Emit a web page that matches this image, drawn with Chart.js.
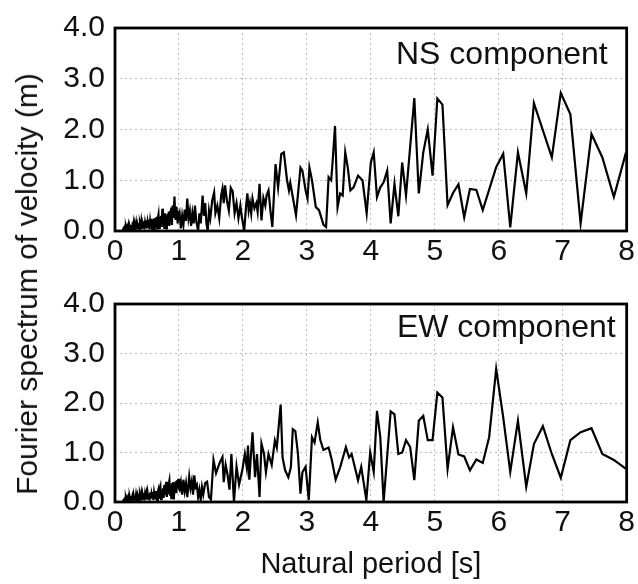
<!DOCTYPE html>
<html><head><meta charset="utf-8">
<script src="https://cdn.jsdelivr.net/npm/chart.js@4.4.0/dist/chart.umd.min.js"></script>
<style>
html,body{margin:0;padding:0;background:#fff;}
#wrap{position:relative;width:638px;height:584px;overflow:hidden;background:#fff;}
#c1{position:absolute;left:0;top:0;}
#c2{position:absolute;left:0;top:276px;}
#ytitle{position:absolute;left:27px;top:284px;transform:translate(-50%,-50%) rotate(-90deg);white-space:nowrap;font-size:30px;font-family:'Liberation Sans',Arial,sans-serif;color:#111;}
</style></head><body>
<div id="wrap">
<canvas id="c1" width="638" height="284"></canvas>
<canvas id="c2" width="638" height="308"></canvas>
<div id="ytitle">Fourier spectrum of velocity (m)</div>
</div>
<script>
// ---- data ----
const nsPeriod = [0.12,0.13,0.14,0.15,0.16,0.17,0.18,0.19,0.20,0.21,0.22,0.23,0.24,0.25,0.26,0.27,0.28,0.29,0.30,0.31,
0.32,0.33,0.34,0.35,0.36,0.37,0.38,0.39,0.40,0.41,0.42,0.43,0.44,0.45,0.46,0.47,0.48,0.49,0.50,0.51,
0.52,0.53,0.54,0.55,0.56,0.57,0.58,0.59,0.60,0.61,0.62,0.63,0.64,0.65,0.66,0.67,0.68,0.69,0.70,0.71,
0.72,0.73,0.74,0.75,0.76,0.77,0.78,0.79,0.80,0.81,0.82,0.83,0.84,0.85,0.86,0.87,0.88,0.89,0.90,0.91,
0.92,0.93,0.94,0.95,0.96,0.97,0.98,0.99,1.00,1.01,1.03,1.05,1.07,1.09,
1.11,1.13,1.15,1.17,1.19,1.21,1.23,1.25,1.27,1.30,1.32,1.34,1.37,1.39,1.41,1.43,1.45,1.47,1.49,1.52,
1.55,1.57,1.60,1.63,1.66,1.68,1.70,1.72,1.75,1.78,1.81,1.84,1.87,1.90,1.93,1.96,1.98,2.02,2.05,2.07,
2.09,2.11,2.13,2.15,2.18,2.21,2.23,2.26,2.29,2.32,2.35,2.37,2.40,2.43,2.46,2.51,2.55,2.60,2.64,2.69,
2.72,2.74,2.77,2.83,2.90,2.93,2.98,3.01,3.04,3.08,3.14,3.19,3.26,3.30,3.34,3.38,3.40,3.44,3.48,3.52,
3.56,3.60,3.64,3.68,3.73,3.80,3.87,3.935,4.0,4.045,4.096,4.148,4.20,4.256,4.31,4.37,4.43,4.49,4.55,4.68,
4.75,4.82,4.89,4.965,5.04,5.12,5.20,5.285,5.37,5.46,5.55,5.65,5.75,5.96,6.07,6.18,6.30,6.43,6.55,6.83,
6.97,7.12,7.28,7.45,7.62,7.80,7.99];
const nsAmp = [0.00,0.04,0.01,0.06,0.02,0.07,0.01,0.08,0.03,0.10,0.02,0.09,0.04,0.12,0.03,0.10,0.05,0.14,0.02,0.12,
0.06,0.15,0.03,0.13,0.07,0.16,0.02,0.14,0.08,0.18,0.04,0.15,0.09,0.19,0.03,0.16,0.08,0.21,0.05,0.18,
0.10,0.22,0.03,0.19,0.09,0.24,0.04,0.20,0.11,0.25,0.02,0.22,0.10,0.28,0.05,0.24,0.32,0.06,0.27,0.12,
0.30,0.08,0.44,0.14,0.33,0.06,0.35,0.18,0.30,0.03,0.34,0.15,0.38,0.10,0.40,0.22,0.46,0.12,0.50,0.28,
0.40,0.68,0.30,0.22,0.48,0.35,0.15,0.40,0.30,0.35,0.05,0.30,0.12,0.42,
0.20,0.64,0.25,0.40,0.10,0.35,0.15,0.50,0.20,0.00,0.35,0.15,0.70,0.30,0.55,0.15,0.00,0.40,0.25,0.60,
0.76,0.35,0.50,0.25,0.70,0.83,0.55,0.90,0.60,0.40,0.85,0.78,0.35,0.55,0.25,0.50,0.30,0.00,0.50,0.74,
0.40,0.55,0.35,0.64,0.45,0.55,0.38,0.93,0.21,0.65,0.50,0.70,0.80,0.40,0.08,1.32,0.86,1.52,1.55,1.00,
0.80,0.95,0.74,0.31,1.25,1.19,0.80,0.64,1.25,1.00,0.47,0.41,0.12,0.08,1.06,1.00,1.32,2.07,0.47,0.74,
0.70,1.55,1.25,0.80,0.86,1.09,1.00,0.35,1.35,1.55,0.67,0.86,0.96,1.19,0.15,0.93,0.29,1.35,0.70,2.62,
0.74,1.55,2.00,1.09,2.61,2.49,0.51,0.75,0.92,0.27,0.83,0.81,0.41,1.26,1.52,0.07,1.55,0.74,2.52,1.45,
2.72,2.30,0.15,1.91,1.45,0.67,1.55];

const ewPeriod = [0.12,0.13,0.14,0.15,0.16,0.17,0.18,0.19,0.20,0.21,0.22,0.23,0.24,0.25,0.26,0.27,0.28,0.29,0.30,0.31,
0.32,0.33,0.34,0.35,0.36,0.37,0.38,0.39,0.40,0.41,0.42,0.43,0.44,0.45,0.46,0.47,0.48,0.49,0.50,0.51,
0.52,0.53,0.54,0.55,0.56,0.57,0.58,0.59,0.60,0.61,0.62,0.63,0.64,0.65,0.66,0.67,0.68,0.69,0.70,0.71,
0.72,0.73,0.74,0.75,0.76,0.77,0.78,0.79,0.80,0.81,0.82,0.83,0.84,0.85,0.86,0.87,0.88,0.89,0.90,0.91,
0.92,0.93,0.94,0.95,0.96,0.97,0.98,0.99,1.00,1.01,1.03,1.05,1.07,1.09,1.11,
1.13,1.16,1.18,1.20,1.22,1.24,1.26,1.28,1.30,1.32,1.34,1.36,1.38,1.41,1.44,1.47,1.50,1.54,1.58,1.63,
1.68,1.70,1.73,1.76,1.79,1.82,1.86,1.90,1.94,1.99,2.03,2.06,2.08,2.10,2.15,2.19,2.22,2.26,2.29,2.33,
2.36,2.40,2.45,2.50,2.53,2.59,2.62,2.66,2.71,2.75,2.78,2.82,2.86,2.90,2.93,2.98,3.03,3.08,3.12,3.17,
3.21,3.26,3.34,3.39,3.45,3.52,3.61,3.66,3.70,3.76,3.80,3.85,3.93,3.99,4.045,4.096,4.148,4.20,4.31,4.37,
4.43,4.49,4.55,4.615,4.68,4.75,4.82,4.89,4.965,5.04,5.12,5.20,5.285,5.37,5.46,5.55,5.65,5.75,5.85,5.96,
6.07,6.18,6.30,6.43,6.55,6.69,6.83,6.97,7.12,7.28,7.45,7.62,7.80,7.99];
const ewAmp = [0.00,0.03,0.01,0.05,0.02,0.07,0.01,0.08,0.03,0.09,0.02,0.10,0.04,0.12,0.05,0.11,0.03,0.14,0.06,0.12,
0.04,0.15,0.07,0.13,0.03,0.16,0.06,0.14,0.08,0.17,0.04,0.15,0.07,0.18,0.03,0.16,0.09,0.17,0.05,0.18,
0.08,0.16,0.03,0.19,0.07,0.17,0.10,0.20,0.04,0.18,0.08,0.22,0.05,0.19,0.02,0.21,0.26,0.09,0.24,0.30,
0.06,0.25,0.12,0.28,0.08,0.32,0.35,0.14,0.41,0.10,0.30,0.18,0.36,0.43,0.15,0.34,0.08,0.38,0.22,0.40,
0.05,0.36,0.25,0.42,0.18,0.44,0.30,0.47,0.28,0.25,0.40,0.15,0.45,0.22,0.38,
0.10,0.51,0.28,0.42,0.15,0.54,0.30,0.35,0.10,0.25,0.05,0.30,0.15,0.38,0.41,0.10,0.05,0.85,0.58,0.77,
0.91,0.40,0.75,0.55,0.25,0.97,0.00,0.72,0.35,0.64,0.97,0.70,1.14,0.45,1.41,0.50,0.97,0.10,1.18,0.97,
0.60,0.97,0.75,1.24,1.10,1.97,0.90,0.64,0.50,0.70,1.47,1.43,0.98,0.17,0.60,0.71,0.04,1.31,1.20,1.61,
1.25,1.05,1.10,0.85,0.45,0.70,1.11,0.90,0.97,0.65,0.44,0.71,0.04,1.00,0.61,1.84,1.31,0.00,1.83,1.77,
0.97,1.00,1.25,1.11,0.44,1.64,1.74,1.25,1.25,2.21,2.11,0.67,1.51,0.96,0.92,0.64,0.86,0.79,1.31,2.69,
1.71,0.61,1.64,0.31,1.17,1.53,0.97,0.49,1.25,1.41,1.49,0.97,0.85,0.67];

const xTickLabels = ['0','1','2','3','4','5','6','7','8'];
const yTickLabels = ['0.0','1.0','2.0','3.0','4.0'];
const panelLabels = ['NS component','EW component'];
const xTitle = 'Natural period [s]';

// ---- drawing ----
const fam = "'Liberation Sans',Arial,sans-serif";
const tickFont = {family:fam, size:30};

const framePlugin = {
  id:'frame',
  afterDraw(chart, args, o){
    const {ctx, chartArea:a} = chart;
    ctx.save();
    ctx.lineWidth = 2.8; ctx.strokeStyle = '#000';
    ctx.strokeRect(a.left, a.top, a.right-a.left, a.bottom-a.top);
    ctx.font = "32px " + fam;
    ctx.fillStyle = '#111'; ctx.textAlign = 'right'; ctx.textBaseline = 'alphabetic';
    ctx.fillText(o.text, a.right - o.dx, a.top + o.dy);
    ctx.restore();
  }
};

function makeChart(id, periods, amps, label, cfg){
  const pts = periods.map((t,i)=>({x:t, y:amps[i]}));
  return new Chart(document.getElementById(id), {
    type:'line',
    data:{datasets:[{data:pts, borderColor:'#000', borderWidth:2.2, pointRadius:0, tension:0, fill:false}]},
    options:{
      responsive:false, animation:false, devicePixelRatio:1,
      layout:{padding:{left:0, right:9, top:cfg.top, bottom:0}},
      plugins:{legend:{display:false}, tooltip:{enabled:false}, frame:{text:label, dx:cfg.dx, dy:cfg.dy}},
      scales:{
        x:{type:'linear', min:0, max:8,
           ticks:{stepSize:1, color:'#111', font:tickFont, padding:3, maxRotation:0,
                  callback:(v)=>xTickLabels[v]},
           grid:{color:'#bdbdbd', lineWidth:1, drawTicks:false},
           border:{display:false, dash:[2,3]},
           title:{display:cfg.showTitle, text:xTitle, color:'#111', font:{family:fam, size:29}, padding:{top:0,bottom:2}},
           afterFit:(s)=>{ s.height = cfg.xh; }},
        y:{min:0, max:4,
           ticks:{stepSize:1, color:'#111', font:tickFont, padding:10,
                  callback:(v)=>yTickLabels[v]},
           grid:{color:'#bdbdbd', lineWidth:1, drawTicks:false},
           border:{display:false, dash:[2,3]},
           afterFit:(s)=>{ s.width = 115; }}
      }
    },
    plugins:[framePlugin]
  });
}

makeChart('c1', nsPeriod, nsAmp, panelLabels[0], {top:26, xh:53, showTitle:false, dx:19, dy:36});
makeChart('c2', ewPeriod, ewAmp, panelLabels[1], {top:26, xh:82, showTitle:true, dx:11, dy:33});
</script>
</body></html>
